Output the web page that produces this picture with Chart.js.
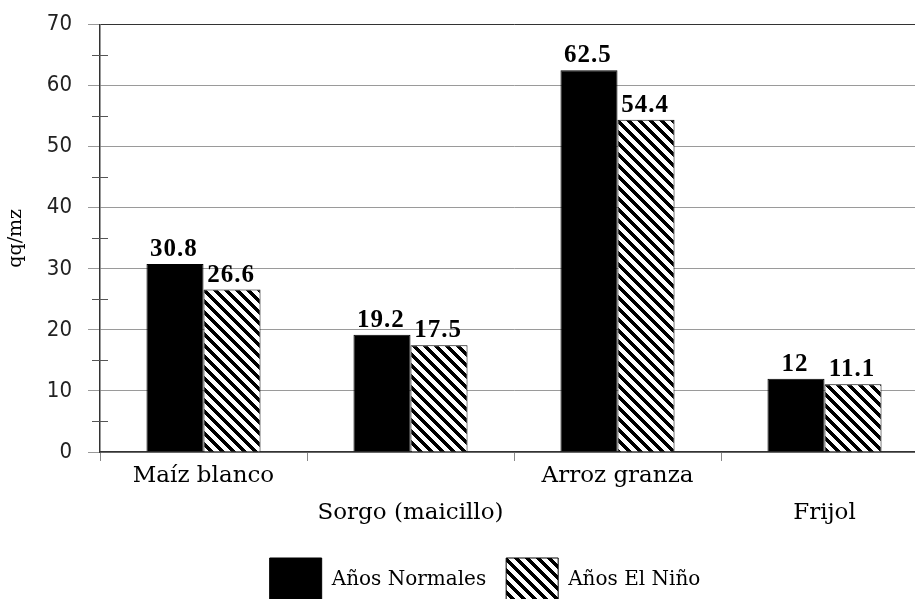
<!DOCTYPE html>
<html>
<head>
<meta charset="utf-8">
<script src="https://cdn.jsdelivr.net/npm/chart.js@4.4.1/dist/chart.umd.min.js"></script>
<style>
  html, body { margin: 0; padding: 0; background: #fff; overflow: hidden; }
  #wrap { position: absolute; left: 0; top: 0; }
</style>
</head>
<body>
<div id="wrap"><canvas id="c" width="935" height="612"></canvas></div>
<script>
// Rendimiento por manzana (qq/mz) en años normales y en años de El Niño
const categories = ['Maíz blanco', 'Sorgo (maicillo)', 'Arroz granza', 'Frijol'];
const normalYears = [30.8, 19.2, 62.5, 12];
const ninoYears = [26.6, 17.5, 54.4, 11.1];
const seriesNames = ['Años Normales', 'Años El Niño'];
const yTicks = [0, 10, 20, 30, 40, 50, 60, 70];

const canvas = document.getElementById('c');
const ctx = canvas.getContext('2d');

// diagonal stripe fill for the El Niño series
function makeHatch() {
  const n = 11;
  const tile = document.createElement('canvas');
  tile.width = n; tile.height = n;
  const g = tile.getContext('2d');
  const img = g.createImageData(n, n);
  for (let y = 0; y < n; y++) {
    for (let x = 0; x < n; x++) {
      const k = (((x - y) % n) + n) % n;
      const v = k < 5 ? 0 : 255;
      const i = (y * n + x) * 4;
      img.data[i] = v; img.data[i + 1] = v; img.data[i + 2] = v; img.data[i + 3] = 255;
    }
  }
  g.putImageData(img, 0, 0);
  return ctx.createPattern(tile, 'repeat');
}
const hatch = makeHatch();

const serif = "'DejaVu Serif', 'Liberation Serif', serif";

// short marks at the half steps on the value axis
const minorTicks = {
  id: 'minorTicks',
  afterDraw(chart) {
    const y = chart.scales.y;
    const x0 = chart.chartArea.left;
    const c = chart.ctx;
    c.save();
    c.strokeStyle = '#555';
    c.lineWidth = 1;
    for (let i = 0; i < yTicks.length - 1; i++) {
      const v = (yTicks[i] + yTicks[i + 1]) / 2;
      const py = Math.round(y.getPixelForValue(v)) + 0.5;
      c.beginPath();
      c.moveTo(x0 - 8, py);
      c.lineTo(x0 + 8, py);
      c.stroke();
    }
    c.restore();
  }
};

// value printed above each bar
const barValues = {
  id: 'barValues',
  afterDatasetsDraw(chart) {
    const c = chart.ctx;
    c.save();
    c.font = "bold 25px 'Liberation Serif', 'Times New Roman', serif";
    c.fillStyle = '#000';
    c.textAlign = 'center';
    c.textBaseline = 'alphabetic';
    if ('letterSpacing' in c) c.letterSpacing = '1px';
    chart.data.datasets.forEach((ds, di) => {
      const meta = chart.getDatasetMeta(di);
      meta.data.forEach((bar, i) => {
        c.fillText(String(ds.data[i]), bar.x - 1, bar.y - 8);
      });
    });
    c.restore();
  }
};

// keep the legend centred under the plot as laid out on the page
const legendShift = {
  id: 'legendShift',
  afterLayout(chart) {
    const lg = chart.legend;
    if (!lg) return;
    const shift = 485 - (lg.left + lg.right) / 2;
    lg.left += shift;
    lg.right += shift;
  }
};

new Chart(ctx, {
  type: 'bar',
  data: {
    labels: categories,
    datasets: [
      {
        label: seriesNames[0],
        data: normalYears,
        backgroundColor: '#000',
        borderColor: '#000',
        borderWidth: 1
      },
      {
        label: seriesNames[1],
        data: ninoYears,
        backgroundColor: hatch,
        borderColor: '#000',
        borderWidth: 1
      }
    ]
  },
  options: {
    responsive: false,
    animation: false,
    devicePixelRatio: 1,
    layout: { padding: { top: 24.5, right: 7, left: 0, bottom: 0 } },
    datasets: { bar: { categoryPercentage: 0.551, barPercentage: 1.0 } },
    plugins: {
      legend: {
        position: 'bottom',
        labels: {
          boxWidth: 52,
          boxHeight: 44,
          padding: 20,
          color: '#000',
          font: { family: serif, size: 20 }
        }
      },
      tooltip: { enabled: false }
    },
    scales: {
      x: {
        afterFit(scale) { scale.height = 86; },
        grid: {
          display: true,
          drawOnChartArea: false,
          drawTicks: true,
          tickLength: 9,
          tickColor: '#888',
          offset: true
        },
        border: { display: true, color: '#333', width: 1.5 },
        ticks: {
          autoSkip: false,
          maxRotation: 0,
          minRotation: 0,
          padding: -3,
          color: '#000',
          font: { family: serif, size: 23, lineHeight: 1.6 },
          callback(value, index) {
            return index % 2 ? ['', categories[index]] : categories[index];
          }
        }
      },
      y: {
        min: yTicks[0],
        max: yTicks[yTicks.length - 1],
        afterFit(scale) {
          scale.width = 100;
          scale.paddingTop = 0;
          scale.paddingBottom = 0;
        },
        afterBuildTicks(scale) { scale.ticks = yTicks.map(v => ({ value: v })); },
        grid: {
          drawTicks: true,
          tickLength: 12,
          tickColor: '#999',
          lineWidth: 1,
          color(c) { return c.tick && c.tick.value === yTicks[yTicks.length - 1] ? '#333' : '#9a9a9a'; }
        },
        border: { display: true, color: '#333', width: 1.5 },
        ticks: {
          padding: 16,
          color: '#222',
          font: { family: "'DejaVu Sans Condensed', 'Liberation Sans Narrow', 'DejaVu Sans', sans-serif", size: 22 }
        },
        title: {
          display: true,
          text: 'qq/mz',
          color: '#000',
          padding: { top: 5, bottom: 0 },
          font: { family: serif, size: 19 }
        }
      }
    }
  },
  plugins: [minorTicks, barValues, legendShift]
});
</script>
</body>
</html>
